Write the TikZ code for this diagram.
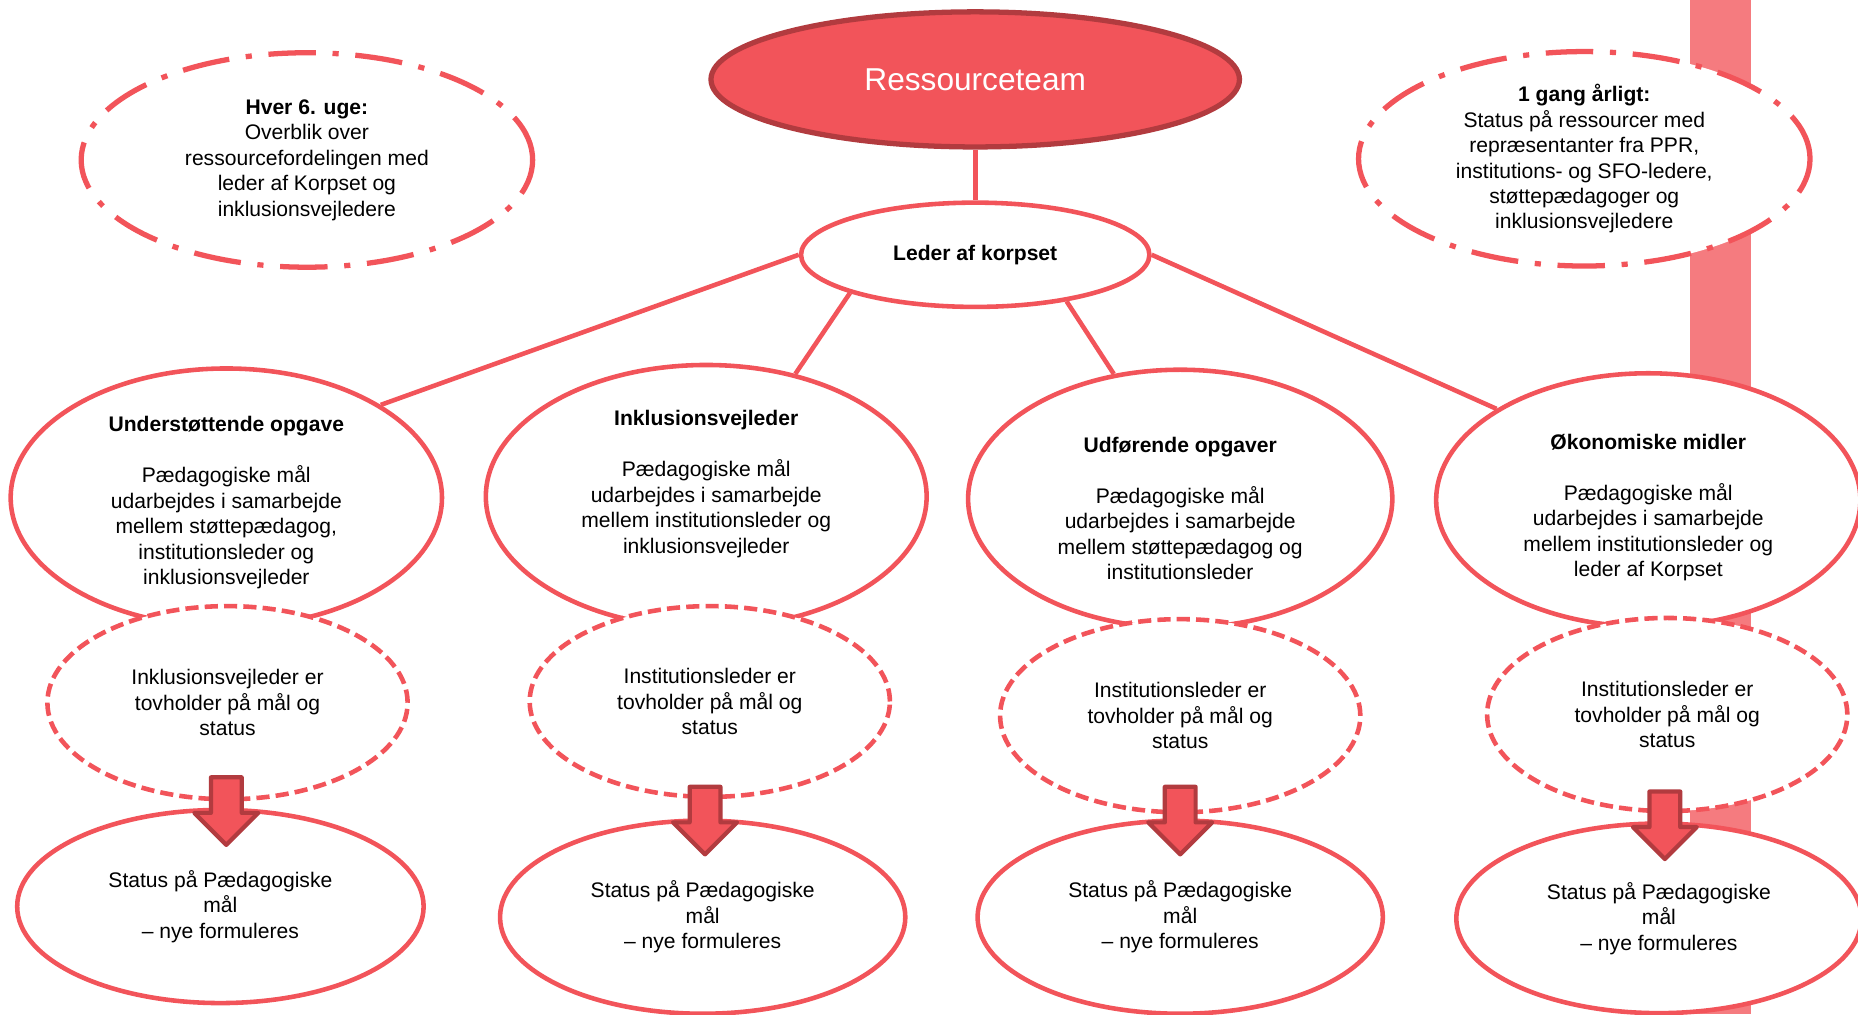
\documentclass[tikz,border=0pt]{standalone}
\usepackage{fontspec}
\setmainfont{Liberation Sans}
\usetikzlibrary{shapes.geometric}
\definecolor{team}{HTML}{F2545A}
\definecolor{teamdark}{HTML}{B23B3F}
\definecolor{stripe}{HTML}{F57B7F}

\tikzset{
  ovalsize/.style 2 args={minimum width=#1*0.237mm, minimum height=#2*0.237mm},
  oval/.style={ellipse, draw=team, line width=2.6pt, fill=white, inner sep=0pt,
    align=center, font=\fontsize{12}{14.5}\selectfont},
  teamoval/.style={oval, draw=teamdark, fill=team, line width=3pt, text=white,
    font=\fontsize{18}{21}\selectfont},
  dashoval/.style={oval, dash pattern=on 7.5pt off 3.5pt},
  dotoval/.style={oval, line width=3pt, dash pattern=on 27pt off 9.5pt on 3.5pt off 9.5pt},
  link/.style={draw=team, line width=2.6pt},
  downarrow/.pic={
    \filldraw[fill=team, draw=teamdark, line width=2.4pt, line join=round]
      (-13,0) -- (13,0) -- (13,30) -- (27,30) -- (0,57) -- (-27,30) -- (-13,30) -- cycle;
  }
}

\begin{document}
\begin{tikzpicture}[x=0.237mm, y=-0.237mm]
  \useasboundingbox (0,0) rectangle (1568,856);
  \fill[stripe] (1426,0) rectangle (1478,856);

  \path
  (823,67) node[teamoval, ovalsize={446}{114}] (team) {Ressourceteam}
  (823,215) node[oval, ovalsize={294}{88}, font=\fontsize{12}{14.5}\selectfont\bfseries] (leder) {Leder af korpset}
  (259,135) node[dotoval, ovalsize={381}{181}] (hver) {\textbf{Hver 6. uge:}\\Overblik over\\ressourcefordelingen med\\leder af Korpset og\\inklusionsvejledere}
  (1337,134) node[dotoval, ovalsize={381}{181}] (aarlig) {\textbf{1 gang årligt:}\\Status på ressourcer med\\repræsentanter fra PPR,\\institutions- og SFO-ledere,\\støttepædagoger og\\inklusionsvejledere}
  ;

  \draw[link] (team.south) to (leder.north);

  \path
  (191,420) node[oval, ovalsize={364}{217}] (stoet) {\mbox{}\\[0pt]\textbf{Understøttende opgave}\\[14.5pt]Pædagogiske mål\\udarbejdes i samarbejde\\mellem støttepædagog,\\institutionsleder og\\inklusionsvejleder}
  (596,419) node[oval, ovalsize={372}{222}] (inkl) {\textbf{Inklusionsvejleder}\\[14.5pt]Pædagogiske mål\\udarbejdes i samarbejde\\mellem institutionsleder og\\inklusionsvejleder\\[2pt]\mbox{}}
  (996,421) node[oval, ovalsize={358}{218}] (udf) {\mbox{}\\[5pt]\textbf{Udførende opgaver}\\[14.5pt]Pædagogiske mål\\udarbejdes i samarbejde\\mellem støttepædagog og\\institutionsleder}
  (1391,422) node[oval, ovalsize={358}{214}] (oekon) {\mbox{}\\[3pt]\textbf{Økonomiske midler}\\[14.5pt]Pædagogiske mål\\udarbejdes i samarbejde\\mellem institutionsleder og\\leder af Korpset}
  ;

  \draw[link] (leder.180) to (stoet.31);
  \draw[link] (leder.197) to (inkl.54);
  \draw[link] (leder.333) to (udf.118);
  \draw[link] (leder.0) to (oekon.149);

  \path
  (192,593) node[dashoval, ovalsize={304}{163}] (tovA) {Inklusionsvejleder er\\tovholder på mål og\\status}
  (599,592) node[dashoval, ovalsize={304}{161}] (tovB) {Institutionsleder er\\tovholder på mål og\\status}
  (996,604) node[dashoval, ovalsize={304}{163}] (tovC) {Institutionsleder er\\tovholder på mål og\\status}
  (1407,603) node[dashoval, ovalsize={304}{163}] (tovD) {Institutionsleder er\\tovholder på mål og\\status}
  ;

  \path
  (186,765) node[oval, ovalsize={343}{163}] (statA) {Status på Pædagogiske\\mål\\– nye formuleres}
  (593,774) node[oval, ovalsize={342}{163}] (statB) {Status på Pædagogiske\\mål\\– nye formuleres}
  (996,774) node[oval, ovalsize={342}{163}] (statC) {Status på Pædagogiske\\mål\\– nye formuleres}
  (1400,775) node[oval, ovalsize={342}{160}] (statD) {Status på Pædagogiske\\mål\\– nye formuleres}
  ;

  \pic (pilA) at (191,656) {downarrow};
  \pic (pilB) at (595,664) {downarrow};
  \pic (pilC) at (996,664) {downarrow};
  \pic (pilD) at (1405,668) {downarrow};
\end{tikzpicture}
\end{document}
